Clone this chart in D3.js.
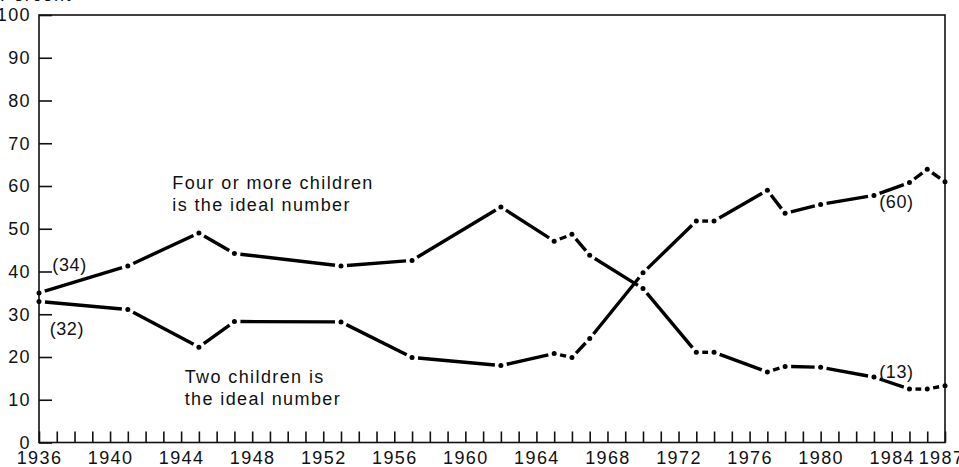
<!DOCTYPE html>
<html>
<head>
<meta charset="utf-8">
<script src="https://cdn.jsdelivr.net/npm/d3@7"></script>
<style>
  html, body { margin: 0; padding: 0; background: #fff; }
  svg { display: block; }
  text { font-family: "Liberation Sans", Arial, sans-serif; fill: #111; }
</style>
</head>
<body>
<svg id="chart" width="959" height="467"></svg>
<script>
// ---- data ----
const years = [1936,1941,1945,1947,1953,1957,1962,1965,1966,1967,1970,1973,1974,1977,1978,1980,1983,1985,1986,1987];
const fourOrMore = [35,41.3,49,44.2,41.3,42.6,55.1,47.1,48.7,43.8,36,21.1,21.1,16.5,17.8,17.6,15.3,12.5,12.5,13.3];
const twoChildren = [33,31.1,22.3,28.3,28.2,19.9,18,20.8,19.9,24.3,39.7,51.8,51.8,59,53.6,55.7,57.8,60.8,63.9,61];
const yTicks = [0,10,20,30,40,50,60,70,80,90,100];
const xLabelYears = [1936,1940,1944,1948,1952,1956,1960,1964,1968,1972,1976,1980,1984,1987];
const seriesLabels = [
  { lines: ["Four or more children", "is the ideal number"], year: 1943.5, value: 59.3 },
  { lines: ["Two children is", "the ideal number"], year: 1944.2, value: 14 }
];
const valueLabels = [
  { text: "(34)", year: 1936.75, value: 40.2 },
  { text: "(32)", year: 1936.6, value: 25.2 },
  { text: "(60)", year: 1983.3, value: 54.9 },
  { text: "(13)", year: 1983.3, value: 15.2 }
];

// ---- layout ----
const svg = d3.select("#chart");
const x = d3.scaleLinear().domain([1936, 1987]).range([39, 945]);
const y = d3.scaleLinear().domain([0, 100]).range([442.5, 15]);
const FONT = 18, LS = "1.4px";

// frame
svg.append("rect")
  .attr("x", x(1936)).attr("y", y(100))
  .attr("width", x(1987) - x(1936)).attr("height", y(0) - y(100))
  .attr("fill", "none").attr("stroke", "#111").attr("stroke-width", 1.6);

// y axis
const yAxis = d3.axisLeft(y).tickValues(yTicks).tickSize(-13).tickPadding(8).tickFormat(d3.format("d"));
const gy = svg.append("g").attr("transform", `translate(${x(1936)},0)`).call(yAxis);
gy.select(".domain").remove();
gy.selectAll("line").attr("stroke", "#111").attr("stroke-width", 1.6);
gy.selectAll("text").attr("font-size", FONT).style("letter-spacing", LS)
  .attr("font-family", "Liberation Sans, Arial, sans-serif").attr("fill", "#111");

// x axis
const xAxis = d3.axisBottom(x).tickValues(d3.range(1936, 1988)).tickSize(-11).tickPadding(7)
  .tickFormat(d => xLabelYears.includes(d) ? String(d) : "");
const gx = svg.append("g").attr("transform", `translate(0,${y(0)})`).call(xAxis);
gx.select(".domain").remove();
gx.selectAll("line").attr("stroke", "#111").attr("stroke-width", 1.6);
gx.selectAll("text").attr("font-size", FONT).style("letter-spacing", LS)
  .attr("font-family", "Liberation Sans, Arial, sans-serif").attr("fill", "#111")
  .attr("dy", "0.78em")
  .attr("dx", d => d === 1987 ? -4 : 0);

// partially visible axis title at very top (cropped in the reference)
svg.append("text").attr("x", 0).attr("y", 0.5).attr("font-size", FONT).style("letter-spacing", LS).text("Percent");

// series drawn as dash-dot: shortened segments + dots at observations
function drawSeries(vals) {
  const pts = years.map((yr, i) => [x(yr), y(vals[i])]);
  const g = svg.append("g");
  const gap = 6;
  for (let i = 0; i < pts.length - 1; i++) {
    const [x1, y1] = pts[i], [x2, y2] = pts[i + 1];
    const dx = x2 - x1, dy = y2 - y1, len = Math.hypot(dx, dy);
    if (len <= 2 * gap + 1) continue;
    const ux = dx / len, uy = dy / len;
    g.append("line")
      .attr("x1", x1 + ux * gap).attr("y1", y1 + uy * gap)
      .attr("x2", x2 - ux * gap).attr("y2", y2 - uy * gap)
      .attr("stroke", "#000").attr("stroke-width", 3.4).attr("stroke-linecap", "butt");
  }
  g.selectAll("circle").data(pts).join("circle")
    .attr("cx", d => d[0]).attr("cy", d => d[1]).attr("r", 2.5).attr("fill", "#000");
}
drawSeries(fourOrMore);
drawSeries(twoChildren);

// annotations
seriesLabels.forEach(l => {
  const t = svg.append("text").attr("x", x(l.year)).attr("y", y(l.value))
    .attr("font-size", FONT).style("letter-spacing", LS);
  l.lines.forEach((s, i) => t.append("tspan").attr("x", x(l.year)).attr("dy", i === 0 ? 0 : 22.5).text(s));
});
valueLabels.forEach(l => {
  svg.append("text").attr("x", x(l.year)).attr("y", y(l.value))
    .attr("font-size", FONT).style("letter-spacing", "0.6px").text(l.text);
});
</script>
</body>
</html>
